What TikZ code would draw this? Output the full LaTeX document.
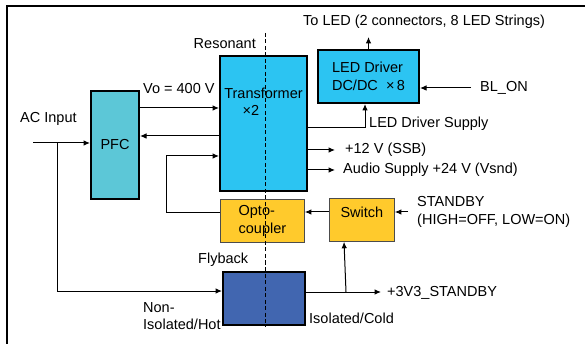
\documentclass[tikz,border=0pt]{standalone}
\usepackage{fontspec}
\setmainfont{Liberation Sans}
\usetikzlibrary{arrows.meta,positioning,calc}
\definecolor{pfcfill}{HTML}{5CC7D7}
\definecolor{convfill}{HTML}{2CC4F2}
\definecolor{ctrlfill}{HTML}{FFCA2C}
\definecolor{flyfill}{HTML}{4166B0}

\begin{document}
\begin{tikzpicture}[x=1pt, y=-1pt, font=\fontsize{14.5}{17.5}\selectfont,
    blk/.style={draw, line width=2pt, anchor=north west, inner sep=0pt, align=center},
    ctl/.style={draw=black!70, line width=0.8pt, fill=ctrlfill, anchor=north west, inner sep=0pt},
    lbl/.style={inner sep=0pt, align=left},
    arr/.style={line width=1pt, -{Latex[length=6.5pt,width=5.5pt]}}]
  \useasboundingbox (0,0) rectangle (585,344);
  \draw[line width=2.5pt] (7,346) -- (7,6) -- (587,6);
  \node[blk, fill=pfcfill, minimum width=48pt, minimum height=108pt] (pfc) at (90,90) {PFC};
  \node[blk, fill=convfill, minimum width=87pt, minimum height=135pt] (xfmr) at (219,55) {};
  \node[lbl, align=center] (xfmrl) at ($(xfmr.north)+(0,47)$) {Transformer\\×2\hspace*{25pt}};
  \node[blk, fill=convfill, align=left, minimum width=101pt, minimum height=53pt] (led) at (317,49) {LED Driver\\DC/DC~~×\,8};
  \node[ctl, align=left, minimum width=84pt, minimum height=43pt] (opto) at (220,199) {Opto-\\coupler};
  \node[ctl, text depth=16pt, minimum width=65pt, minimum height=43pt] (sw) at (329,198) {Switch};
  \node[blk, fill=flyfill, minimum width=82pt, minimum height=53pt] (fly) at (222,271) {};

  \node[lbl, anchor=east] (reso) at (256,44) {Resonant};
  \node[lbl, anchor=west] (vo) at (143,89) {Vo = 400 V};
  \node[lbl, anchor=west] (acin) at (20,119) {AC Input};
  \node[lbl, anchor=west] (toled) at (303,22) {To LED (2 connectors, 8 LED Strings)};
  \node[lbl, anchor=west] (blon) at (480,88) {BL\_ON};
  \node[lbl, anchor=west] (ldsup) at (369,124) {LED Driver Supply};
  \node[lbl, anchor=west] (v12) at (345,150) {+12 V (SSB)};
  \node[lbl, anchor=west] (vsnd) at (343,170) {Audio Supply +24 V (Vsnd)};
  \node[lbl, anchor=west] (stby) at (417,212) {STANDBY\\(HIGH=OFF, LOW=ON)};
  \node[lbl, anchor=west] (v33) at (387,293) {+3V3\_STANDBY};
  \node[lbl, anchor=west] (flyl) at (198,260) {Flyback};
  \node[lbl, anchor=west] (hot) at (143,316) {Non-\\Isolated/Hot};
  \node[lbl, anchor=west] (cold) at (309,318) {Isolated/Cold};

  \coordinate (acsrc) at (33,143);
  \coordinate (acbr) at (57,143);
  \draw[arr] (acsrc) -- (acsrc -| pfc.west);
  \draw[arr] (acbr) |- ($(fly.north west)+(0,20)$);
  \draw[arr] ($(pfc.north east)+(0,18)$) -- ($(xfmr.north west)+(0,53)$);
  \draw[arr] ($(xfmr.north west)+(0,81)$) -- ($(pfc.north east)+(0,46)$);
  \draw[arr] ($(opto.north west)+(0,14)$) -- ++(-54,0) |- ($(xfmr.north west)+(0,101)$);
  \draw[arr] (led.north) -- ++(0,-12);
  \draw[arr] ([xshift=-9pt]blon.west) -- (blon.west -| led.east);
  \draw[arr] ($(xfmr.north east)+(0,73)$) -| ($(led.south west)+(48,0)$);
  \draw[arr] (v12.west -| xfmr.east) -- ++(27,0);
  \draw[arr] (vsnd.west -| xfmr.east) -- ++(27,0);
  \draw[arr] ($(sw.north west)+(0,14)$) -- ($(opto.north east)+(0,13)$);
  \draw[arr] ([xshift=-9pt]stby.west) -- (stby.west -| sw.east);
  \draw[arr] ($(fly.north east)+(0,21)$) -- ++(75,0);
  \draw[arr] ($(fly.north east)+(40,21)$) -- ($(sw.south west)+(15,0)$);

  \draw[line width=1pt, dash pattern=on 4pt off 2.5pt] (265,33) -- (265,327);
\end{tikzpicture}
\end{document}
